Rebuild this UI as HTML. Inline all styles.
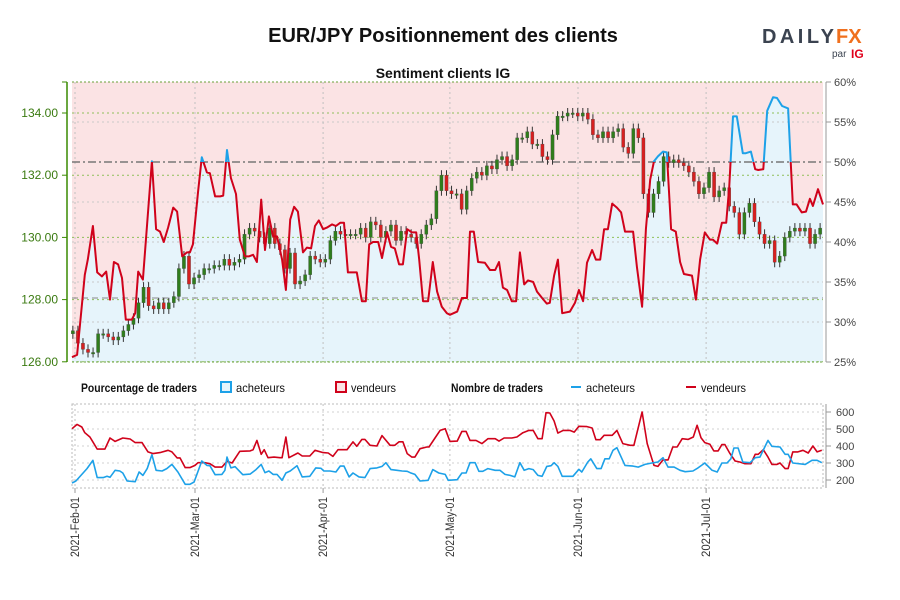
<!DOCTYPE html>
<html><head><meta charset="utf-8"><style>
html,body{margin:0;padding:0;background:#fff;}
svg{display:block;font-family:"Liberation Sans",sans-serif;}
</style></head><body>
<svg id="chart" width="900" height="600" viewBox="0 0 900 600" xmlns="http://www.w3.org/2000/svg">
<text x="443" y="42" text-anchor="middle" font-size="20" font-weight="bold" fill="#111">EUR/JPY Positionnement des clients</text>
<g>
<text x="762" y="43" font-size="20" font-weight="bold" fill="#3b4350" textLength="72" lengthAdjust="spacing">DAILY</text>
<text x="836" y="43" font-size="20" font-weight="bold" fill="#f0701e">FX</text>
<text x="832" y="57" font-size="10" fill="#3b4350">par</text>
<text x="851" y="58" font-size="12" font-weight="bold" fill="#e0001b">IG</text>
</g>
<text x="443" y="78" text-anchor="middle" font-size="14" font-weight="bold" fill="#111">Sentiment clients IG</text>
<g id="main"></g>
<g id="legend">
<text x="81" y="392" font-size="12" font-weight="bold" fill="#111" textLength="116" lengthAdjust="spacingAndGlyphs">Pourcentage de traders</text>
<rect x="221" y="382" width="10" height="10" fill="#e6f4fb" stroke="#1da1e8" stroke-width="2"/>
<text x="236" y="392" font-size="12" fill="#111" textLength="49" lengthAdjust="spacingAndGlyphs">acheteurs</text>
<rect x="336" y="382" width="10" height="10" fill="#fbe3e4" stroke="#d0021b" stroke-width="2"/>
<text x="351" y="392" font-size="12" fill="#111" textLength="45" lengthAdjust="spacingAndGlyphs">vendeurs</text>
<text x="451" y="392" font-size="12" font-weight="bold" fill="#111" textLength="92" lengthAdjust="spacingAndGlyphs">Nombre de traders</text>
<line x1="571" y1="387" x2="581" y2="387" stroke="#1da1e8" stroke-width="2"/>
<text x="586" y="392" font-size="12" fill="#111" textLength="49" lengthAdjust="spacingAndGlyphs">acheteurs</text>
<line x1="686" y1="387" x2="696" y2="387" stroke="#d0021b" stroke-width="2"/>
<text x="701" y="392" font-size="12" fill="#111" textLength="45" lengthAdjust="spacingAndGlyphs">vendeurs</text>
</g>
<g id="lower"></g>
</svg>
<script>
// ---- data ----
const monthLabels = ["2021-Feb-01","2021-Mar-01","2021-Apr-01","2021-May-01","2021-Jun-01","2021-Jul-01"];
const monthDays = [0,28.1,58.1,87.8,117.8,147.8];
const priceTicks = [126,128,130,132,134];
const pctTicks = [25,30,35,40,45,50,55,60];
const countTicks = [200,300,400,500,600];

const pctDays = [-0.7,0.5,2.3,3.0,4.2,5.2,6.3,7.3,8.2,9.1,10.1,11.0,11.9,13.3,14.1,14.8,15.9,18.0,19.0,19.9,20.8,21.8,23.0,23.9,25.1,26.2,26.9,27.6,28.8,29.7,30.9,31.6,32.8,34.0,34.7,35.6,36.5,37.7,38.6,39.8,40.7,41.7,42.6,43.6,44.5,45.4,46.4,47.3,48.5,49.4,50.4,51.3,52.2,53.4,54.3,55.3,56.2,57.1,58.1,59.0,60.2,61.1,62.1,63.0,63.9,66.0,67.2,68.1,68.9,69.8,71.0,71.9,73.1,74.0,74.9,75.9,76.8,77.8,78.9,79.9,80.6,81.5,82.7,83.8,84.8,85.9,87.1,87.8,89.5,90.6,91.8,92.5,93.4,94.4,96.0,97.2,98.4,99.3,100.2,101.2,102.3,103.3,104.2,105.2,106.1,107.3,108.2,109.4,110.5,111.2,112.2,113.1,114.1,115.9,117.1,118.0,119.0,119.9,121.1,122.0,123.0,123.9,124.8,125.8,126.9,127.9,128.8,130.7,131.6,132.8,133.7,134.7,135.6,136.5,137.7,138.6,139.6,140.7,141.7,142.6,144.5,145.4,146.4,147.5,148.7,149.4,150.4,151.5,152.5,153.2,154.1,155.0,156.4,157.1,158.3,159.3,160.0,161.2,162.1,163.5,164.4,165.6,167.0,168.1,169.0,170.2,171.2,172.1,172.8,174.0,175.2];
const pctLong = [25.6,25.9,35.9,37.8,42,36.2,35.7,36.3,32.8,37.5,37.2,35.5,30.3,30.3,31.1,36.3,35.3,50.1,41.6,41.3,40,41.8,44.3,43.8,38.2,38.7,38.7,39.7,46.2,50.6,48.7,48.6,45.7,45.7,45.8,51.5,48,46,40.3,38.2,38.2,38.4,37.5,45.3,39,43.2,40.7,40.7,37.8,34,42.8,44.4,43.8,38.7,39.3,39.2,42,42.7,41.6,41.8,42.2,42,42.4,42.4,36.2,36.2,32.6,32.6,39.7,40,40,38,41.2,39.4,39.2,37.2,37.2,41.6,41.2,41.2,37.8,32.6,32.6,37.5,33.8,31.9,31.1,30.9,31.3,33,33,41.3,41.3,37.5,37.4,36.5,36.5,37.5,34.3,34,32.6,32.6,38.7,34.7,35.2,35,33.8,33,32.3,32.4,35.8,37.8,31.1,31.3,32.4,34,32.6,37.4,39,37.8,37.8,41.6,41.6,44.8,44.3,43.7,41.3,41.3,36.9,31.9,41.6,47.8,50.1,50.7,51.3,51.2,41.6,41.3,37.5,36,35.8,32.8,37.8,41.2,40.3,40.3,39.8,42.4,42.4,46.8,55.7,55.7,51.1,51.1,51.3,49.1,49,49.1,56.4,58.1,58,57,56.7,44.7,44.7,43.7,43.8,45.4,44.5,46.6,44.7];

const closes = [127.0,126.6,126.4,126.3,126.3,126.9,126.9,126.8,126.7,126.8,127.0,127.2,127.4,127.9,128.4,127.8,127.7,127.9,127.7,127.9,128.1,129.0,129.4,128.5,128.7,128.8,129.0,129.0,129.1,129.1,129.3,129.1,129.2,129.3,130.1,130.3,130.2,130.0,129.8,130.3,129.8,129.6,129.0,129.5,128.5,128.6,128.8,129.4,129.3,129.2,129.3,129.9,130.2,130.1,130.1,130.1,130.1,130.3,130.0,130.5,130.4,130.0,130.2,130.4,129.9,130.2,130.1,130.0,129.8,130.1,130.4,130.6,131.5,132.0,131.5,131.4,131.4,130.9,131.5,131.9,132.1,132.0,132.3,132.2,132.5,132.6,132.3,132.5,133.2,133.2,133.4,133.0,133.0,132.6,132.5,133.3,133.9,133.9,134.0,134.0,133.9,134.0,133.8,133.3,133.2,133.4,133.2,133.4,133.5,132.9,132.7,133.5,133.2,131.4,130.8,131.4,131.8,132.6,132.4,132.5,132.4,132.3,132.1,131.8,131.4,131.6,132.1,131.3,131.5,131.6,131.0,130.8,130.1,130.8,131.1,130.5,130.1,129.8,129.9,129.2,129.4,130.0,130.2,130.3,130.2,130.3,129.8,130.1,130.3];
const opens = [126.9,127.0,126.6,126.4,126.3,126.3,126.9,126.9,126.8,126.7,126.8,127.0,127.2,127.4,127.9,128.4,127.8,127.7,127.9,127.7,127.9,128.1,129.0,129.4,128.5,128.7,128.8,129.0,129.0,129.1,129.1,129.3,129.1,129.2,129.3,130.1,130.3,130.2,130.0,129.8,130.3,129.8,129.6,129.0,129.5,128.5,128.6,128.8,129.4,129.3,129.2,129.3,129.9,130.2,130.1,130.1,130.1,130.1,130.3,130.0,130.5,130.4,130.0,130.2,130.4,129.9,130.2,130.1,130.0,129.8,130.1,130.4,130.6,131.5,132.0,131.5,131.4,131.4,130.9,131.5,131.9,132.1,132.0,132.3,132.2,132.5,132.6,132.3,132.5,133.2,133.2,133.4,133.0,133.0,132.6,132.5,133.3,133.9,133.9,134.0,134.0,133.9,134.0,133.8,133.3,133.2,133.4,133.2,133.4,133.5,132.9,132.7,133.5,133.2,131.4,130.8,131.4,131.8,132.6,132.4,132.5,132.4,132.3,132.1,131.8,131.4,131.6,132.1,131.3,131.5,131.6,131.0,130.8,130.1,130.8,131.1,130.5,130.1,129.8,129.9,129.2,129.4,130.0,130.2,130.3,130.2,130.3,129.8,130.1];

const sellDays = [-0.7,0.5,1.6,2.3,3.5,4.2,5.2,7.0,8.2,9.4,11.2,12.9,14.1,15.7,17.1,18.3,19.9,21.8,22.7,23.9,24.6,25.8,26.9,28.1,28.8,30.4,31.6,32.8,34.4,35.6,36.8,38.6,41.0,41.7,42.6,43.6,44.3,45.2,46.6,48.0,48.5,49.4,50.1,52.2,53.2,55.0,56.2,58.1,59.3,60.4,61.6,63.7,65.1,66.0,67.2,67.9,69.1,70.7,71.9,73.8,74.9,75.9,76.8,77.8,78.9,79.6,80.8,82.4,82.9,84.3,85.5,86.7,87.8,89.5,90.6,91.6,92.5,93.9,95.3,96.7,98.4,99.3,100.5,102.3,103.5,104.9,106.3,107.3,108.4,109.4,110.3,111.2,112.2,113.1,114.3,115.9,116.9,118.0,119.9,121.1,122.0,123.0,123.9,125.8,126.9,128.3,130.0,130.9,132.8,134.0,135.1,135.6,136.5,137.7,138.9,140.0,141.0,142.2,143.6,144.8,145.7,146.6,147.5,148.7,149.6,150.6,151.5,152.2,153.4,154.6,155.7,156.9,158.3,159.3,160.0,161.2,162.3,163.2,164.4,165.1,166.3,167.0,168.1,169.3,170.5,171.7,172.8,173.8,174.9];
const sellCount = [502,527,512,478,453,424,382,382,447,427,447,441,420,420,365,355,361,375,365,330,330,273,273,286,302,302,296,276,276,310,300,369,371,378,433,351,378,331,335,331,331,453,331,359,341,341,375,361,359,339,378,378,424,398,439,439,404,400,461,404,404,425,425,355,335,335,384,394,394,447,492,502,427,429,486,486,433,433,414,443,443,429,447,447,453,478,492,492,443,443,596,594,547,476,492,492,482,516,514,506,437,437,463,463,492,414,404,404,600,414,325,286,280,318,318,394,394,443,439,453,522,449,420,410,371,371,408,408,355,312,306,296,296,351,351,378,335,292,292,300,267,267,365,365,375,359,400,365,375];

const buyDays = [-0.7,0.2,2.8,4.2,5.2,6.6,7.5,8.2,9.4,10.5,11.2,12.2,14.1,15.0,15.9,16.9,18.0,19.0,20.4,21.5,22.7,24.1,25.8,26.9,27.9,29.7,30.9,31.6,32.8,34.4,35.1,35.6,36.5,37.5,39.3,41.0,42.4,43.6,44.5,45.4,46.4,47.3,48.5,49.4,50.4,52.0,53.2,55.0,56.4,57.6,58.3,59.7,61.1,62.1,63.0,64.2,65.1,66.5,67.9,69.1,70.7,71.9,72.8,74.0,75.4,76.6,77.8,78.5,79.6,80.8,82.7,83.8,85.2,86.7,87.4,89.5,90.6,91.6,92.5,93.7,94.6,95.5,96.7,98.4,99.5,100.7,101.9,103.0,104.2,105.2,106.3,107.3,108.4,109.4,110.5,111.5,112.2,113.1,114.1,116.6,118.0,118.7,120.1,120.8,122.2,123.2,124.1,125.1,126.0,126.9,128.8,130.7,131.9,133.5,135.1,136.5,137.7,138.9,140.3,141.7,142.9,144.7,145.9,147.5,149.2,150.4,151.5,152.7,153.6,154.3,155.3,156.4,158.1,159.3,160.4,162.3,163.2,165.1,166.3,167.0,168.1,171.0,172.6,173.8,174.9];
const buyCount = [182,194,267,316,214,214,222,216,257,253,241,194,190,247,227,267,349,257,253,267,292,247,175,175,188,312,286,284,231,233,257,335,271,278,231,235,261,292,243,253,233,233,198,241,253,284,218,222,271,269,253,253,247,282,282,218,241,218,214,267,271,280,302,261,257,253,251,243,233,194,198,261,241,233,198,202,241,241,302,302,251,251,267,257,257,233,227,218,302,257,267,261,227,222,280,284,302,280,222,222,263,247,306,325,267,267,325,325,375,390,286,282,276,292,300,306,331,276,276,257,249,253,271,300,257,247,300,300,325,388,388,306,302,331,335,433,398,394,351,351,300,292,316,316,302];

// ---- scales ----
const PL=72, PR=823, PT=82, PB=362;
function xDay(d){ return 75 + d*4.27; }
function yPrice(v){ return 113 + (134 - v)*31.1; }
function yPct(p){ return PB - (p - 25)*(PB-PT)/35; }
function yCount(v){ return 480 - (v - 200)*0.17; }
const NS="http://www.w3.org/2000/svg";
function mk(tag, attrs, parent){ const e=document.createElementNS(NS,tag); for(const k in attrs) e.setAttribute(k,attrs[k]); parent.appendChild(e); return e; }

const main=document.getElementById('main');
const bg=mk('rect',{x:PL,y:PT,width:PR-PL,height:PB-PT,fill:'#fbe3e4'},main);


let areaD='M'+xDay(pctDays[0]).toFixed(1)+','+PB;
pctDays.forEach((d,i)=>{ areaD+=' L'+Math.min(PR,xDay(d)).toFixed(1)+','+yPct(pctLong[i]).toFixed(1); });
areaD+=' L'+Math.min(PR,xDay(pctDays[pctDays.length-1])).toFixed(1)+','+PB+' Z';
const area=mk('path',{d:areaD,fill:'#e6f4fb'},main);



pctTicks.forEach(p=>{ if(p===25||p===60||p===50) return;
  const g=mk('line',{x1:PL,x2:PR,y1:yPct(p),y2:yPct(p),stroke:'#c8c8c8','stroke-dasharray':'2,3','stroke-width':1},main);
  
  
});
priceTicks.forEach(v=>{
  const g=mk('line',{x1:PL,x2:PR,y1:yPrice(v),y2:yPrice(v),stroke:'#8fbf5a','stroke-dasharray':'2,3','stroke-width':1},main);
  
  
});
monthDays.forEach(d=>{
  const g=mk('line',{x1:xDay(d),x2:xDay(d),y1:PT,y2:PB,stroke:'#c0c0c0','stroke-dasharray':'2,3'},main);
  
  
});
[PT,PB].forEach(y=>{ const b=mk('line',{x1:PL,x2:PR,y1:y,y2:y,stroke:'#6aa23a','stroke-dasharray':'2,2'},main);
  
   });
const mid=mk('line',{x1:PL,x2:PR,y1:yPct(50),y2:yPct(50),stroke:'#777','stroke-dasharray':'8,3,2,3','stroke-width':1.5},main);


const low=mk('line',{x1:PL,x2:PR,y1:yPct(33),y2:yPct(33),stroke:'#888','stroke-dasharray':'6,4','stroke-width':1},main);



const nC=closes.length;
closes.forEach((c,i)=>{
  const o=opens[i]; const d=-0.5+i*175/(nC-1); const x=xDay(d);
  const up=c>=o; const top=yPrice(Math.max(o,c)), bot=yPrice(Math.min(o,c));
  const w=mk('line',{x1:x,x2:x,y1:top-5,y2:bot+5,stroke:'#333','stroke-width':1},main);
  
  
  const r=mk('rect',{x:x-1.6,y:top,width:3.2,height:Math.max(1.5,bot-top),fill:up?'#2f7d1c':'#d62020',stroke:'#444','stroke-width':0.3},main);
  
  
});

let lineD='';
pctDays.forEach((d,i)=>{ lineD+=(i?' L':'M')+Math.min(PR,xDay(d)).toFixed(1)+','+yPct(pctLong[i]).toFixed(1); });
const defs=mk('defs',{},main);
const c1=mk('clipPath',{id:'above'},defs); mk('rect',{x:0,y:0,width:900,height:yPct(50)},c1);
const c2=mk('clipPath',{id:'below'},defs); mk('rect',{x:0,y:yPct(50),width:900,height:600},c2);
const lr=mk('path',{d:lineD,fill:'none',stroke:'#d0021b','stroke-width':2,'clip-path':'url(#below)','stroke-linejoin':'round'},main);


const lb=mk('path',{d:lineD,fill:'none',stroke:'#1da1e8','stroke-width':2,'clip-path':'url(#above)','stroke-linejoin':'round'},main);



const la=mk('line',{x1:67,x2:67,y1:PT,y2:PB,stroke:'#3a8a00','stroke-width':1.5},main);


mk('line',{x1:62,x2:67,y1:PT,y2:PT,stroke:'#3a8a00'},main);
priceTicks.forEach(v=>{
  mk('line',{x1:62,x2:67,y1:yPrice(v),y2:yPrice(v),stroke:'#3a8a00'},main);
  const t=mk('text',{x:58,y:yPrice(v)+4,'text-anchor':'end','font-size':12,fill:'#3a7a10'},main);
  
  
  t.textContent=v.toFixed(2);
});
const ra=mk('line',{x1:826,x2:826,y1:PT,y2:PB,stroke:'#999'},main);


pctTicks.forEach(p=>{
  mk('line',{x1:826,x2:831,y1:yPct(p),y2:yPct(p),stroke:'#999'},main);
  const t=mk('text',{x:834,y:yPct(p)+4,'font-size':11,fill:'#444'},main);
  
  
  t.textContent=p+'%';
});

const lower=document.getElementById('lower');
const LT=404, LB=488;
const lbox=mk('rect',{x:PL,y:LT,width:PR-PL,height:LB-LT,fill:'none',stroke:'#bbb','stroke-dasharray':'2,2'},lower);


countTicks.forEach(v=>{
  const g=mk('line',{x1:PL,x2:PR,y1:yCount(v),y2:yCount(v),stroke:'#d0d0d0','stroke-dasharray':'2,3'},lower);
  
  
  mk('line',{x1:826,x2:831,y1:yCount(v),y2:yCount(v),stroke:'#999'},lower);
  const t=mk('text',{x:836,y:yCount(v)+4,'font-size':11,fill:'#444'},lower);
  
  
  t.textContent=v;
});
const lra=mk('line',{x1:826,x2:826,y1:LT,y2:LB,stroke:'#999'},lower);


monthDays.forEach((d,i)=>{
  const g=mk('line',{x1:xDay(d),x2:xDay(d),y1:LT,y2:LB,stroke:'#c0c0c0','stroke-dasharray':'2,3'},lower);
  
  
  mk('line',{x1:xDay(d),x2:xDay(d),y1:LB,y2:LB+5,stroke:'#999'},lower);
  const t=mk('text',{x:0,y:0,'font-size':11.5,fill:'#333','text-anchor':'end',textLength:60,lengthAdjust:'spacingAndGlyphs',transform:'translate('+(xDay(d)+4)+',497) rotate(-90)'},lower);
  
  
  t.textContent=monthLabels[i];
});
function countPath(days,vals){ let s=''; days.forEach((d,i)=>{ s+=(i?' L':'M')+Math.max(PL,Math.min(PR,xDay(d))).toFixed(1)+','+yCount(vals[i]).toFixed(1); }); return s; }
const sl=mk('path',{d:countPath(sellDays,sellCount),fill:'none',stroke:'#d0021b','stroke-width':1.6,'stroke-linejoin':'round'},lower);


const bl=mk('path',{d:countPath(buyDays,buyCount),fill:'none',stroke:'#1da1e8','stroke-width':1.6,'stroke-linejoin':'round'},lower);


</script>
</body></html>
